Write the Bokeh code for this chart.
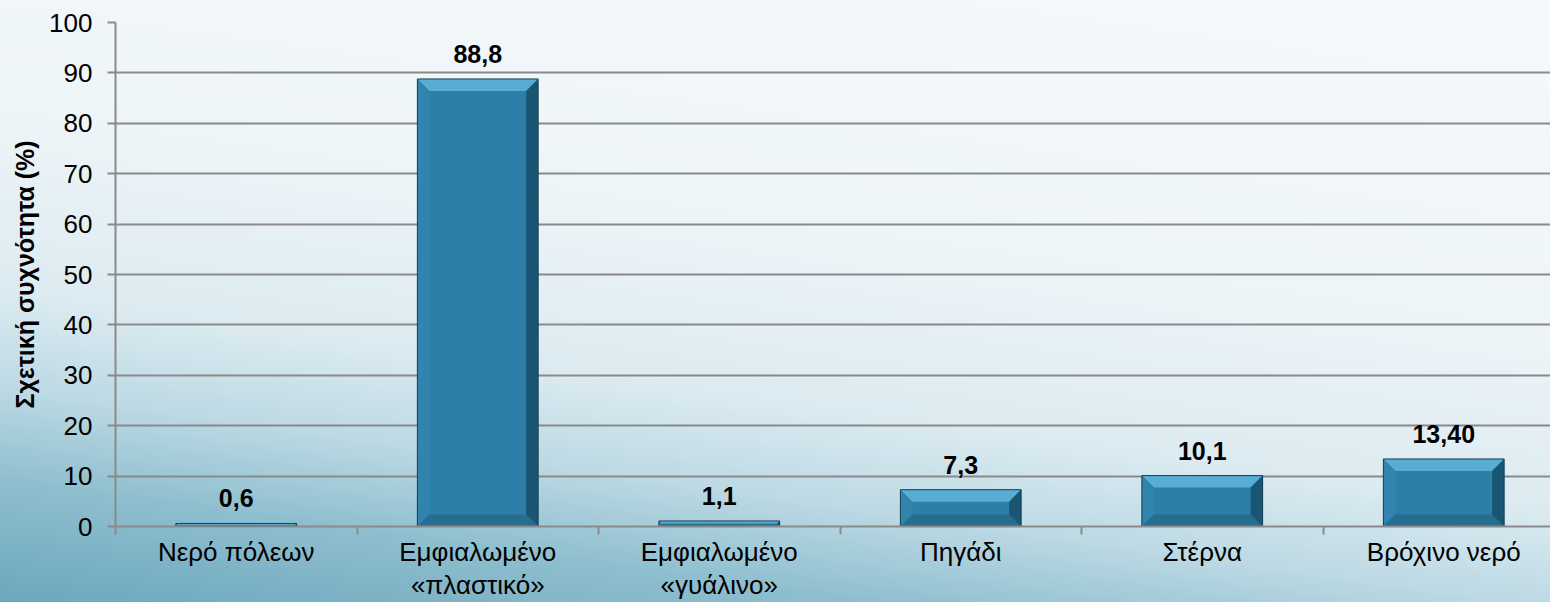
from bokeh.plotting import figure
from bokeh.models import FixedTicker, ColumnDataSource
from bokeh.embed import file_html
from bokeh.resources import INLINE
from bokeh.core.properties import value

# ---- data ----
categories = ["Νερό πόλεων", "Εμφιαλωμένο\n«πλαστικό»", "Εμφιαλωμένο\n«γυάλινο»",
              "Πηγάδι", "Στέρνα", "Βρόχινο νερό"]
values = [0.6, 88.8, 1.1, 7.3, 10.1, 13.4]
value_labels = ["0,6", "88,8", "1,1", "7,3", "10,1", "13,40"]
y_ticks = [0, 10, 20, 30, 40, 50, 60, 70, 80, 90, 100]
y_title = "Σχετική συχνότητα (%)"

FONT = "Liberation Sans"
GRID = "#8a8a8a"

W, H = 1550, 602
LEFT, TOP, BOTTOM = 115, 22, 76
frame_w = W - LEFT
frame_h = H - TOP - BOTTOM
x_end = frame_w / 241.5
centers = [i + 0.5 for i in range(len(categories))]
bounds = list(range(len(categories) + 1))

p = figure(width=W, height=H, output_backend="svg", toolbar_location=None,
           x_range=(0, x_end), y_range=(0, 100),
           min_border_left=LEFT, min_border_right=0, min_border_top=TOP,
           min_border_bottom=BOTTOM)
p.styles = {"background": "linear-gradient(188deg, #f5f9fb 0%, #eef5f8 40%, #dcebf1 62%, "
                          "#bcd9e4 74%, #8fbfcf 85%, #6ca7bc 100%)"}
p.background_fill_color = None
p.border_fill_color = None
p.outline_line_color = None

# grid
p.xgrid.visible = False
p.ygrid.ticker = FixedTicker(ticks=y_ticks)
p.ygrid.grid_line_color = GRID
p.ygrid.grid_line_width = 2

# y axis
p.yaxis.ticker = FixedTicker(ticks=y_ticks)
p.yaxis.axis_line_color = GRID
p.yaxis.axis_line_width = 2
p.yaxis.major_tick_line_color = GRID
p.yaxis.major_tick_line_width = 2
p.yaxis.major_tick_out = 8
p.yaxis.major_tick_in = 0
p.yaxis.minor_tick_line_color = None
p.yaxis.major_label_text_font = FONT
p.yaxis.major_label_text_font_size = "26px"
p.yaxis.major_label_text_color = "black"
p.yaxis.major_label_standoff = 15
p.yaxis.axis_label = y_title
p.yaxis.axis_label_text_font = FONT
p.yaxis.axis_label_text_font_size = "25px"
p.yaxis.axis_label_text_font_style = "bold"
p.yaxis.axis_label_text_color = "black"
p.yaxis.axis_label_standoff = 7

# x axis: labels at category centres, ticks at category boundaries
p.xaxis.ticker = FixedTicker(ticks=centers, minor_ticks=bounds)
p.xaxis.major_label_overrides = {c: lab for c, lab in zip(centers, categories)}
p.xaxis.axis_line_color = GRID
p.xaxis.axis_line_width = 2
p.xaxis.major_tick_line_color = None
p.xaxis.major_tick_out = 0
p.xaxis.major_tick_in = 0
p.xaxis.minor_tick_line_color = GRID
p.xaxis.minor_tick_line_width = 2
p.xaxis.minor_tick_out = 8
p.xaxis.minor_tick_in = 0
p.xaxis.major_label_text_font = FONT
p.xaxis.major_label_text_font_size = "26px"
p.xaxis.major_label_text_line_height = 1.1
p.xaxis.major_label_text_color = "black"
p.xaxis.major_label_standoff = 2

# bars with bevel
bw = 0.5
px_per_x = frame_w / x_end
px_per_y = frame_h / 100
bev_px = 12
tops, rights, bottoms, lefts = ([], []), ([], []), ([], []), ([], [])
for c, v in zip(centers, values):
    x0, x1 = c - bw / 2, c + bw / 2
    by = min(bev_px / px_per_y, v / 2)
    bx = by * px_per_y / px_per_x
    tops[0].append([x0, x1, x1 - bx, x0 + bx]); tops[1].append([v, v, v - by, v - by])
    rights[0].append([x1, x1, x1 - bx, x1 - bx]); rights[1].append([v, 0, by, v - by])
    bottoms[0].append([x0, x1, x1 - bx, x0 + bx]); bottoms[1].append([0, 0, by, by])
    lefts[0].append([x0, x0, x0 + bx, x0 + bx]); lefts[1].append([0, v, v - by, by])

src = ColumnDataSource(dict(x=centers, top=values, lab=value_labels))
p.vbar(x="x", top="top", bottom=0, width=bw, source=src,
       fill_color="#2e7fa7", line_color=None)
p.patches(tops[0], tops[1], fill_color="#58add5", line_color=None)
p.patches(lefts[0], lefts[1], fill_color="#3184ad", line_color=None)
p.patches(bottoms[0], bottoms[1], fill_color="#276d90", line_color=None)
p.patches(rights[0], rights[1], fill_color="#1a5674", line_color=None)
p.vbar(x="x", top="top", bottom=0, width=bw, source=src,
       fill_color=None, line_color="#173f52", line_width=1)

p.text(x="x", y="top", text="lab", source=src, y_offset=-25,
       text_align="center", text_baseline="middle",
       text_font=value(FONT), text_font_size="25px", text_font_style="bold",
       text_color="black")

open("out.html", "w").write(file_html(p, INLINE))
